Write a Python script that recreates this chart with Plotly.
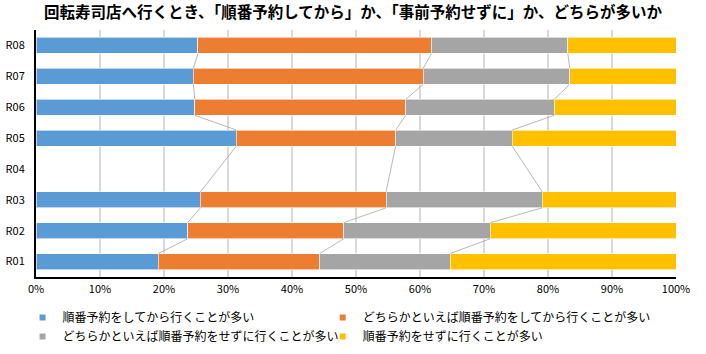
import plotly.graph_objects as go

categories = ["R01", "R02", "R03", "R04", "R05", "R06", "R07", "R08"]
series_names = [
    "順番予約をしてから行くことが多い",
    "どちらかといえば順番予約をしてから行くことが多い",
    "どちらかといえば順番予約をせずに行くことが多い",
    "順番予約をせずに行くことが多い",
]
s1 = [19.1, 23.7, 25.7, None, 31.3, 24.8, 24.6, 25.3]
s2 = [25.2, 24.4, 29.0, None, 24.9, 33.0, 35.9, 36.5]
s3 = [20.4, 22.9, 24.4, None, 18.2, 23.2, 22.9, 21.3]
s4 = [35.3, 29.0, 20.9, None, 25.6, 19.0, 16.6, 16.9]
colors = ["#5b9bd5", "#ed7d31", "#a5a5a5", "#ffc000"]
x_ticks = [0, 10, 20, 30, 40, 50, 60, 70, 80, 90, 100]
title_text = "回転寿司店へ行くとき、「順番予約してから」か、「事前予約せずに」か、どちらが多いか"

FONT = "Noto Sans CJK JP"
bargap = 0.48
series = [s1, s2, s3, s4]
legend_ids = ["legend", "legend2", "legend", "legend2"]

fig = go.Figure()

# series lines (Excel-style) between consecutive non-empty bars
half = (1 - bargap) / 2
valid = [i for i, v in enumerate(s1) if v is not None]
cums = []
run = [0.0 if s1[i] is not None else None for i in range(len(categories))]
for k in range(3):
    run = [None if run[i] is None else run[i] + series[k][i] for i in range(len(categories))]
    cums.append(list(run))
for cum in cums:
    xs, ys = [], []
    for a, b in zip(valid[:-1], valid[1:]):
        xs += [cum[a], cum[b], None]
        ys += [a + half, b - half, None]
    fig.add_trace(go.Scatter(x=xs, y=ys, mode="lines", line=dict(color="#a6a6a6", width=0.8),
                             showlegend=False, hoverinfo="skip", yaxis="y2"))

for name, vals, c, lg in zip(series_names, series, colors, legend_ids):
    fig.add_trace(go.Bar(y=categories, x=vals, orientation="h", name=name,
                         marker=dict(color=c, line=dict(color="rgba(255,255,255,0.6)", width=1)),
                         showlegend=False))
    fig.add_trace(go.Scatter(x=[None], y=[None], mode="markers", name=name, legend=lg,
                             marker=dict(symbol="square", size=6, color=c), showlegend=True))

leg_common = dict(orientation="v", yref="container", yanchor="top", y=0.144, xanchor="left",
                  traceorder="normal", itemwidth=30, tracegroupgap=0,
                  font=dict(size=12, family=FONT), bgcolor="rgba(0,0,0,0)")

fig.update_layout(
    width=706, height=354,
    margin=dict(l=35.5, r=29.5, t=29.5, b=76.5),
    barmode="stack", bargap=bargap,
    plot_bgcolor="white", paper_bgcolor="white",
    font=dict(family=FONT, color="#000000", size=11),
    title=dict(text=title_text, x=0.5, xanchor="center", y=0.965, yanchor="middle",
               font=dict(family=FONT, size=15.5, color="#000000", weight="bold")),
    xaxis=dict(range=[0, 100], tickvals=x_ticks, ticktext=[f"{v}%" for v in x_ticks],
               showgrid=True, gridcolor="#d9d9d9", gridwidth=1.5, zeroline=False,
               showline=True, linecolor="#000000", linewidth=2, ticks="", automargin=False,
               tickfont=dict(size=11), ticklabelstandoff=1, fixedrange=True),
    yaxis=dict(categoryorder="array", categoryarray=categories, range=[-0.5, 7.5],
               showgrid=False, showline=True, linecolor="#000000", linewidth=2, automargin=False,
               ticks="", tickfont=dict(size=11), ticklabelstandoff=7),
    yaxis2=dict(overlaying="y", range=[-0.5, 7.5], visible=False),
    legend=dict(x=-0.021, **leg_common),
    legend2=dict(x=0.448, **leg_common),
)
fig.write_html("out.html")
